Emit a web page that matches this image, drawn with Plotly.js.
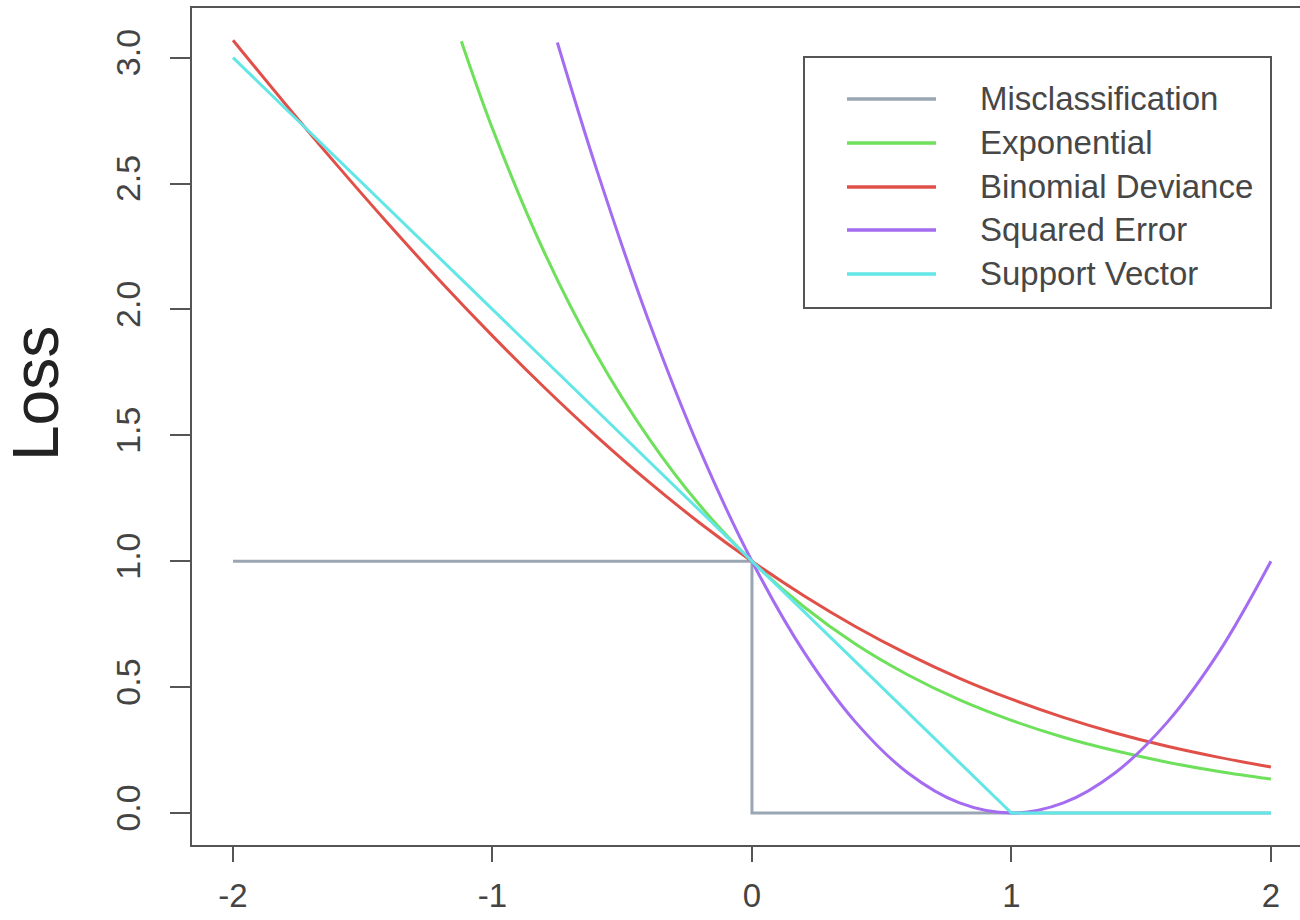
<!DOCTYPE html>
<html>
<head>
<meta charset="utf-8">
<script src="https://cdn.plot.ly/plotly-3.0.1.min.js"></script>
<style>html,body{margin:0;padding:0;background:#fff;}#chart{width:1300px;height:920px;}</style>
</head>
<body>
<div id="chart"></div>
<script>
// ---- data ----
const seriesNames = ["Misclassification", "Exponential", "Binomial Deviance", "Squared Error", "Support Vector"];
const seriesColors = ["#9aa6b3", "#6fe05c", "#e05048", "#a46cf0", "#62e6e6"];

const misX = [-2, 0, 0, 2];
const misY = [1, 1, 0, 0];

const expX = [-1.12, -1.0, -0.8, -0.6, -0.4, -0.2, 0, 0.2, 0.4, 0.6, 0.8, 1.0, 1.2, 1.4, 1.6, 1.8, 2.0];
const expY = [3.065, 2.718, 2.226, 1.822, 1.492, 1.221, 1.0, 0.819, 0.670, 0.549, 0.449, 0.368, 0.301, 0.247, 0.202, 0.165, 0.135];

const binX = [-2.0, -1.8, -1.6, -1.4, -1.2, -1.0, -0.8, -0.6, -0.4, -0.2, 0, 0.2, 0.4, 0.6, 0.8, 1.0, 1.2, 1.4, 1.6, 1.8, 2.0];
const binY = [3.069, 2.818, 2.574, 2.338, 2.111, 1.895, 1.690, 1.497, 1.317, 1.151, 1.0, 0.863, 0.740, 0.631, 0.535, 0.452, 0.380, 0.318, 0.265, 0.221, 0.183];

const sqX = [-0.75, -0.6, -0.4, -0.2, 0, 0.2, 0.4, 0.6, 0.8, 1.0, 1.2, 1.4, 1.6, 1.8, 2.0];
const sqY = [3.06, 2.56, 1.96, 1.44, 1.0, 0.64, 0.36, 0.16, 0.04, 0.0, 0.04, 0.16, 0.36, 0.64, 1.0];

const svX = [-2, 1, 2];
const svY = [3, 0, 0];

const xTickVals = [-2, -1, 0, 1, 2];
const xTickText = ["-2", "-1", "0", "1", "2"];
const yTickVals = [0, 0.5, 1.0, 1.5, 2.0, 2.5, 3.0];
const yTickText = ["0.0", "0.5", "1.0", "1.5", "2.0", "2.5", "3.0"];
const yLabel = "Loss";

// ---- layout geometry (pixels) ----
const W = 1300, H = 920;
const PL = 192, PT = 8, PB = 845, PR = 1300;
const pw = PR - PL, ph = PB - PT;
const px = v => (v - PL) / pw;
const py = v => (PB - v) / ph;

const xs = [misX, expX, binX, sqX, svX];
const ys = [misY, expY, binY, sqY, svY];
const shapesLine = ["linear", "spline", "spline", "spline", "linear"];

const traces = seriesNames.map((n, i) => ({
  x: xs[i], y: ys[i], name: n, type: "scatter", mode: "lines",
  line: {color: seriesColors[i], width: 3, shape: shapesLine[i], smoothing: 1},
  hoverinfo: "skip", showlegend: false
}));

const fontFam = "Liberation Sans, Arial, Helvetica, sans-serif";
const shapes = [];
const annotations = [];

// custom legend box
shapes.push({type: "rect", xref: "paper", yref: "paper",
  x0: px(804), x1: px(1271), y0: py(308), y1: py(57),
  line: {color: "#555", width: 2}, fillcolor: "rgba(255,255,255,0)"});
const rowY = [99, 143, 187, 230, 274];
seriesNames.forEach((n, i) => {
  shapes.push({type: "line", xref: "paper", yref: "paper",
    x0: px(847), x1: px(936), y0: py(rowY[i]), y1: py(rowY[i]),
    line: {color: seriesColors[i], width: 3.5}});
  annotations.push({xref: "paper", yref: "paper", x: px(978), y: py(rowY[i]),
    xanchor: "left", yanchor: "middle", showarrow: false, text: n,
    font: {family: fontFam, size: 33, color: "#474747"}});
});

annotations.push({xref: "paper", yref: "paper", x: px(36), y: py(394),
  xanchor: "center", yanchor: "middle", showarrow: false, text: yLabel, textangle: -90,
  font: {family: fontFam, size: 64, color: "#222"}});

const layout = {
  width: W, height: H,
  margin: {l: PL, r: W - PR, t: PT, b: H - PB, pad: 0},
  paper_bgcolor: "#fff", plot_bgcolor: "#fff",
  showlegend: false,
  xaxis: {
    range: [-2.158, 2.112], showgrid: false, zeroline: false,
    showline: true, mirror: true, linecolor: "#555", linewidth: 2,
    ticks: "outside", ticklen: 15, tickwidth: 2, tickcolor: "#555",
    tickvals: xTickVals, ticktext: xTickText, ticklabelstandoff: 5,
    tickfont: {family: fontFam, size: 33, color: "#444"}
  },
  yaxis: {
    range: [-0.127, 3.197], showgrid: false, zeroline: false,
    showline: true, mirror: false, linecolor: "#555", linewidth: 2,
    ticks: "outside", ticklen: 20, tickwidth: 2, tickcolor: "#555",
    tickvals: yTickVals, ticktext: yTickText, tickangle: -90, ticklabelstandoff: 16,
    tickfont: {family: fontFam, size: 34, color: "#444"}
  },
  shapes: shapes,
  annotations: annotations
};

Plotly.newPlot("chart", traces, layout, {staticPlot: true, displayModeBar: false});
</script>
</body>
</html>
